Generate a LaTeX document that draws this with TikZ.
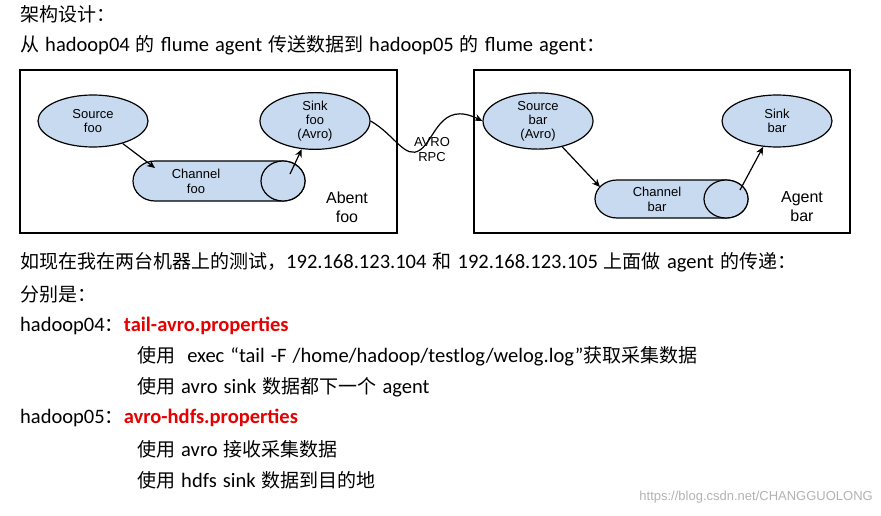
\documentclass[tikz,border=0pt]{standalone}
\usepackage{fontspec}
\setmainfont{Carlito}[Scale=1.08,WordSpace=1.3]
\newfontfamily\cjk{Noto Sans CJK SC}
\newfontfamily\arialf{Liberation Sans}
\usetikzlibrary{arrows.meta,shapes.geometric}
\definecolor{blu}{RGB}{200,218,240}
\definecolor{redt}{RGB}{230,0,0}
\begin{document}
\begin{tikzpicture}[x=1pt,y=-1pt,
  txt/.style={anchor=west,inner sep=0,font=\fontsize{19}{22}\selectfont},
  ell/.style={draw,line width=1.2pt,fill=blu,ellipse,minimum width=110pt,minimum height=52pt,inner sep=0,align=center,font=\arialf\fontsize{13}{14}\selectfont},
  lab/.style={align=center,inner sep=0,font=\arialf\fontsize{13}{15}\selectfont},
  big/.style={align=center,inner sep=0,font=\arialf\fontsize{16}{19}\selectfont},
  arr/.style={line width=1.2pt,-{Stealth[length=8pt,width=7pt]}},
  frame/.style={draw,line width=1.5pt}]
\useasboundingbox (0,0) rectangle (881,516);
\node[txt] (t1) at (20,14) {\cjk 架构设计：};
\node[txt] (t2) at (20,45) {{\cjk 从} hadoop04 {\cjk 的} flume agent {\cjk 传送数据到} hadoop05 {\cjk 的} flume agent{\cjk ：}};
% frames
\node[frame,minimum width=377pt,minimum height=163pt,inner sep=0] (fa) at (208.5,151.5) {};
\node[frame,minimum width=376pt,minimum height=163pt,inner sep=0] (fb) at (662,151.5) {};
% left agent
\node[ell] (sf) at (93,121) {Source\\foo};
\node[ell] (kf) at (315,121) {Sink\\foo\\(Avro)};
\draw[line width=1.2pt,fill=blu] (155,161) -- (283,161) arc(-90:90:22 and 20) -- (155,201) arc(90:270:22 and 20) -- cycle;
\draw[line width=1.2pt,fill=blu] (283,181) ellipse (22 and 20);
\node[lab] (cf) at (196,181) {Channel\\foo};
\coordinate (cfl) at (155,168);
\coordinate (cfr) at (290,174);
\draw[arr] (sf) -- (cfl);
\draw[arr] (cfr) -- (kf);
\node[big] (af) at (347,207) {Abent\\foo};
% right agent
\node[ell] (sb) at (538,121) {Source\\bar\\(Avro)};
\node[ell] (kb) at (777,121) {Sink\\bar};
\draw[line width=1.2pt,fill=blu] (617,180) -- (726,180) arc(-90:90:22 and 19) -- (617,218) arc(90:270:22 and 19) -- cycle;
\draw[line width=1.2pt,fill=blu] (726,199) ellipse (22 and 19);
\node[lab] (cb) at (657,199) {Channel\\bar};
\coordinate (cbl) at (600,187);
\coordinate (cbr) at (740,190);
\draw[arr] (sb) -- (cbl);
\draw[arr] (cbr) -- (kb);
\node[big] (ab) at (802,207) {Agent\\bar};
% rpc
\node[lab] (rpc) at (432,150) {AVRO\\RPC};
\draw[arr] (kf.east) .. controls (395,135) and (405,160) .. (420,150) .. controls (435,140) and (440,100) .. (sb.west);
% text
\node[txt] (t3) at (20,262) {{\cjk 如现在我在两台机器上的测试，}192.168.123.104 {\cjk 和} 192.168.123.105 {\cjk 上面做} agent {\cjk 的传递：}};
\node[txt] (t4) at (20,294) {\cjk 分别是：};
\node[txt] (t5) at (20,326) {hadoop04{\cjk ：}\textcolor{redt}{\bfseries tail-avro.properties}};
\node[txt] (t6) at (137,356) {{\cjk 使用}\ \ exec “tail -F /home/hadoop/testlog/welog.log”{\cjk 获取采集数据}};
\node[txt] (t7) at (137,387) {{\cjk 使用} avro sink {\cjk 数据都下一个} agent};
\node[txt] (t8) at (20,418) {hadoop05{\cjk ：}\textcolor{redt}{\bfseries avro-hdfs.properties}};
\node[txt] (t9) at (137,449) {{\cjk 使用} avro {\cjk 接收采集数据}};
\node[txt] (t10) at (137,480) {{\cjk 使用} hdfs sink {\cjk 数据到目的地}};
\node[anchor=east,inner sep=0,text=black!30,font=\arialf\fontsize{13}{15}\selectfont] (wm) at (873,497) {https://blog.csdn.net/CHANGGUOLONG};
\end{tikzpicture}
\end{document}
